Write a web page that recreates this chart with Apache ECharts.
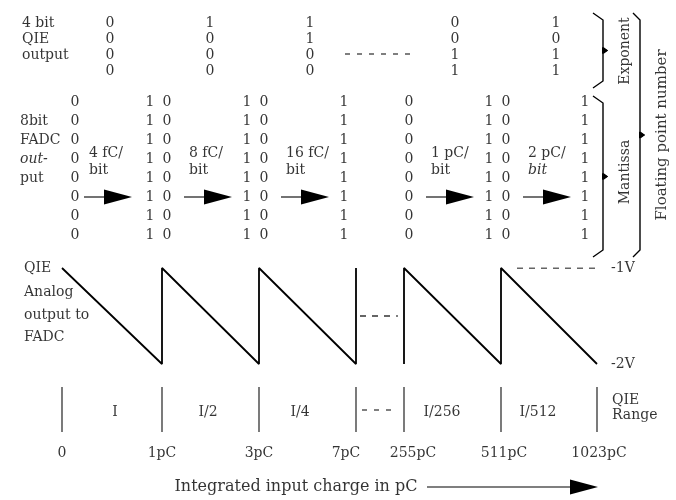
<!DOCTYPE html>
<html>
<head>
<meta charset="utf-8">
<script src="https://cdn.jsdelivr.net/npm/echarts/dist/echarts.min.js"></script>
<style>
html, body { margin: 0; padding: 0; background: #fff; }
#main { width: 676px; height: 500px; }
</style>
</head>
<body>
<div id="main"></div>
<script>
// ---- data ----
var exponentRowLabels = ['4 bit', 'QIE', 'output'];
// 4 bit exponent per drawn range (top row first)
var exponentBits = [
    ['0', '0', '0', '0'],
    ['1', '0', '0', '0'],
    ['1', '1', '0', '0'],
    ['0', '0', '1', '1'],
    ['1', '0', '1', '1']
];
var fadcRowLabels = ['8bit', 'FADC', 'out-', 'put'];
// FADC register at each range edge: value just before / just after the edge
var fadcBefore = [null, '1', '1', '1', null, '1', '1'];
var fadcAfter = ['0', '0', '0', null, '0', '0', null];
var binWidths = ['4 fC/', '8 fC/', '16 fC/', '1 pC/', '2 pC/'];
var edgeLabels = ['0', '1pC', '3pC', '7pC', '255pC', '511pC', '1023pC'];
var rangeLabels = ['I', 'I/2', 'I/4', 'I/256', 'I/512'];
var analogLabels = ['QIE', 'Analog', 'output to', 'FADC'];
var voltLabels = ['-1V', '-2V'];
var voltTop = -1, voltBottom = -2;
var bracketLabels = ['Exponent', 'Mantissa', 'Floating point number'];
var axisTitle = 'Integrated input charge in pC';

// ---- layout (schematic, not data) ----
var FONT = '"DejaVu Serif", "Liberation Serif", serif';
var edgeX = [62, 162, 259, 356, 404, 501, 597];
var drawnRanges = [[0, 1], [1, 2], [2, 3], [4, 5], [5, 6]];   // gap between 7pC and 255pC
var expColX = [110, 210, 310, 455, 556];
var expRowY = [23, 39, 55, 71];
var fadcRowY = [102, 121, 140, 159, 178, 197, 216, 235];
var rangeLabelX = [115, 208, 300, 442, 538];
var edgeLabelShift = [0, 0, 0, -10, 9, 3, 2];

function textSeries(items, extra) {
    return {
        type: 'scatter', xAxisIndex: extra && extra.grid ? 1 : 0, yAxisIndex: extra && extra.grid ? 1 : 0,
        symbolSize: 0, silent: true, animation: false, data: items,
        label: {
            show: true, position: 'inside', color: '#000', fontFamily: FONT, fontSize: 14,
            align: 'center', verticalAlign: 'middle',
            formatter: function (p) { return p.data.text; }
        }
    };
}
function t(x, y, text, lab) {
    var d = { value: [x, y], text: text };
    if (lab) d.label = lab;
    return d;
}
function linesSeries(paths, style, gridIdx) {
    return {
        type: 'lines', coordinateSystem: 'cartesian2d', xAxisIndex: gridIdx || 0, yAxisIndex: gridIdx || 0,
        polyline: true, silent: true, animation: false,
        data: paths.map(function (p) { return { coords: p }; }),
        lineStyle: Object.assign({ color: '#000', width: 1, opacity: 1, curveness: 0 }, style)
    };
}
function brace(xHook, xLine, top, bottom) {
    var mid = (top + bottom) / 2;
    return [[xHook, top], [xLine, top + 7], [xLine, mid - 3], [xLine + 4, mid], [xLine, mid + 3], [xLine, bottom - 7], [xHook, bottom]];
}

var texts = [];
var L = { align: 'left' };
exponentRowLabels.forEach(function (s, i) { texts.push(t(22, expRowY[i], s, L)); });
exponentBits.forEach(function (col, c) {
    col.forEach(function (b, r) { texts.push(t(expColX[c], expRowY[r], b)); });
});
fadcRowLabels.forEach(function (s, i) {
    texts.push(t(20, fadcRowY[i + 1], s, i === 2 ? { align: 'left', fontStyle: 'italic' } : L));
});
edgeX.forEach(function (x, i) {
    fadcRowY.forEach(function (y) {
        if (fadcBefore[i]) texts.push(t(x - 12, y, fadcBefore[i]));
        if (fadcAfter[i]) texts.push(t(x + (i === 0 ? 13 : 5), y, fadcAfter[i]));
    });
});
drawnRanges.forEach(function (r, k) {
    var x0 = edgeX[r[0]];
    texts.push(t(x0 + 27, 153, binWidths[k], L));
    texts.push(t(x0 + 27, 170, 'bit', k === 4 ? { align: 'left', fontStyle: 'italic' } : L));
    texts.push(t(rangeLabelX[k], 412, rangeLabels[k]));
});
analogLabels.forEach(function (s, i) { texts.push(t(24, [268, 292, 315, 337][i], s, L)); });
edgeLabels.forEach(function (s, i) { texts.push(t(edgeX[i] + edgeLabelShift[i], 453, s)); });
texts.push(t(612, 400, 'QIE', L));
texts.push(t(612, 415, 'Range', L));
texts.push(t(296, 487, axisTitle, { fontSize: 16 }));
texts.push(t(625, 51, bracketLabels[0], { rotate: 90 }));
texts.push(t(625, 172, bracketLabels[1], { rotate: 90 }));
texts.push(t(662, 135, bracketLabels[2], { rotate: 90, fontSize: 15 }));

var voltTexts = [t(611, voltTop, voltLabels[0], L), t(611, voltBottom, voltLabels[1], L)];

// sawtooth: ramps down across each range, resets at the edge
var sawA = [], sawB = [];
drawnRanges.forEach(function (r) {
    var seg = r[0] < 4 ? sawA : sawB;
    seg.push([edgeX[r[0]], voltTop]);
    seg.push([edgeX[r[1]], voltBottom]);
});
sawA.push([edgeX[3], voltTop]);
sawB.unshift([edgeX[4], voltBottom]);
// insert vertical resets
function withResets(seg) {
    var out = [];
    seg.forEach(function (p, i) {
        if (i > 0 && p[1] === voltTop && seg[i - 1][1] === voltBottom) out.push([p[0], voltBottom]);
        out.push(p);
    });
    return out;
}
sawA = withResets(sawA);

// arrows between FADC columns
var arrowLines = [], arrowHeads = [];
drawnRanges.forEach(function (r) {
    var x0 = edgeX[r[0]];
    arrowLines.push([[x0 + 22, 197], [x0 + 44, 197]]);
    arrowHeads.push([x0 + 56, 197]);
});
arrowLines.push([[427, 487], [575, 487]]);
arrowHeads.push([584, 487]);

var rangeLines = edgeX.map(function (x) { return [[x, 387], [x, 432]]; });
var braces = [brace(593, 603, 13, 88), brace(593, 603, 96, 257), brace(633, 640, 13, 257)];
var braceTips = [[605, 50.5], [605, 176.5], [642, 135]];

var chart = echarts.init(document.getElementById('main'), null, { renderer: 'canvas' });
chart.setOption({
    animation: false,
    backgroundColor: '#fff',
    grid: [
        { left: 0, top: 0, width: 676, height: 500 },
        { left: 0, top: 268, width: 676, height: 96 }
    ],
    xAxis: [
        { type: 'value', gridIndex: 0, min: 0, max: 676, show: false },
        { type: 'value', gridIndex: 1, min: 0, max: 676, show: false }
    ],
    yAxis: [
        { type: 'value', gridIndex: 0, min: 0, max: 500, inverse: true, show: false },
        { type: 'value', gridIndex: 1, min: voltBottom, max: voltTop, show: false }
    ],
    series: [
        { type: 'line', xAxisIndex: 1, yAxisIndex: 1, data: sawA, symbol: 'none', silent: true,
          lineStyle: { color: '#000', width: 1.8 } },
        { type: 'line', xAxisIndex: 1, yAxisIndex: 1, data: sawB, symbol: 'none', silent: true,
          lineStyle: { color: '#000', width: 1.8 } },
        linesSeries([[[360, -1.5], [398, -1.5]], [[517, voltTop], [597, voltTop]]], { type: [6, 6], width: 1.2 }, 1),
        linesSeries([[[362, 410], [398, 410]], [[345, 54], [412, 54]]], { type: [5, 7], width: 1.2 }),
        linesSeries(rangeLines, { color: '#222', width: 1.2 }),
        linesSeries(braces, { width: 1.4 }),
        linesSeries(arrowLines, { width: 1.1 }),
        { type: 'scatter', xAxisIndex: 0, yAxisIndex: 0, data: arrowHeads, symbol: 'triangle',
          symbolSize: [15, 28], symbolRotate: -90, silent: true, itemStyle: { color: '#000', opacity: 1 } },
        { type: 'scatter', xAxisIndex: 0, yAxisIndex: 0, data: braceTips, symbol: 'triangle',
          symbolSize: [7, 6], symbolRotate: -90, silent: true, itemStyle: { color: '#000', opacity: 1 } },
        textSeries(texts),
        textSeries(voltTexts, { grid: 1 })
    ]
});
window.addEventListener('resize', chart.resize);
</script>
</body>
</html>
